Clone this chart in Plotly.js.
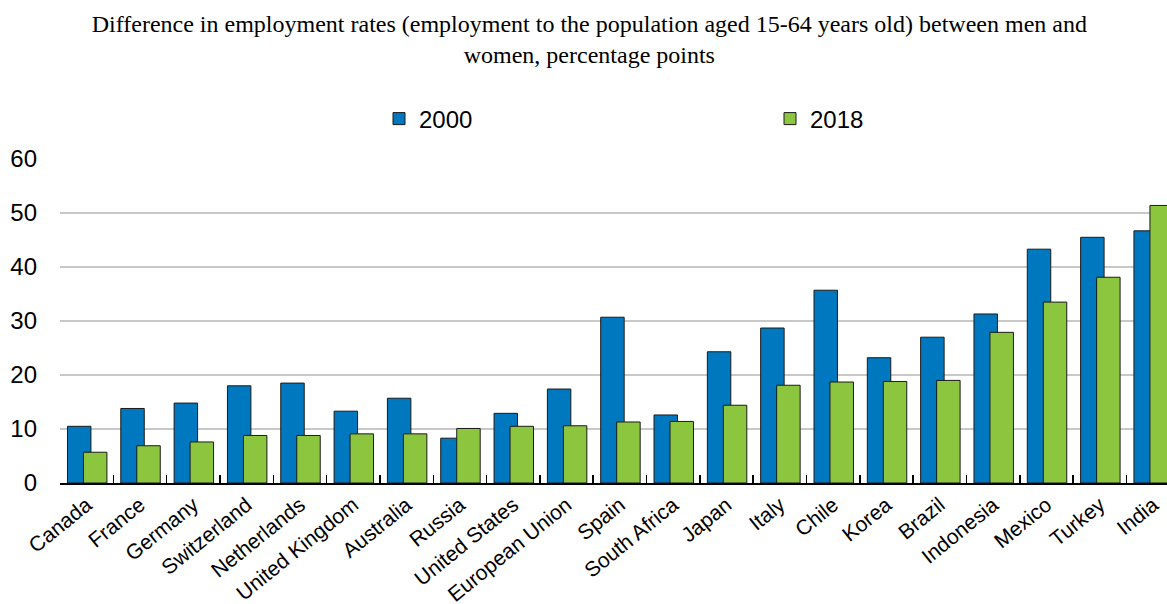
<!DOCTYPE html>
<html>
<head>
<meta charset="utf-8">
<script src="https://cdn.plot.ly/plotly-3.0.1.min.js"></script>
<style>body{margin:0;padding:0;background:#fff;}#chart{width:1167px;height:604px;}</style>
</head>
<body>
<div id="chart"></div>
<script>
const categories = ["Canada","France","Germany","Switzerland","Netherlands","United Kingdom","Australia","Russia","United States","European Union","Spain","South Africa","Japan","Italy","Chile","Korea","Brazil","Indonesia","Mexico","Turkey","India"];
const values2000 = [10.5,13.8,14.8,18.0,18.5,13.3,15.7,8.3,12.9,17.4,30.7,12.6,24.3,28.7,35.7,23.2,27.0,31.3,43.3,45.5,46.7];
const values2018 = [5.7,6.9,7.6,8.8,8.8,9.1,9.1,10.1,10.5,10.6,11.3,11.4,14.4,18.1,18.7,18.8,19.0,27.9,33.5,38.1,51.4];
const seriesNames = ["2000","2018"];
const titleText = "Difference in employment rates (employment to the population aged 15-64 years old) between men and<br>women, percentage points";

const narrow = "'Liberation Sans Narrow', 'Arial Narrow', 'Liberation Sans', Arial, sans-serif";
const traces = [
  {type:"bar", name:seriesNames[0], x:categories, y:values2000, width:0.44, offset:-0.36,
   marker:{color:"#0078BF", line:{color:"#1a1a1a", width:1}}},
  {type:"bar", name:seriesNames[1], x:categories, y:values2018, width:0.44, offset:-0.06,
   marker:{color:"#8CC63F", line:{color:"#1a1a1a", width:1}}}
];
const layout = {
  width:1167, height:604,
  margin:{l:60, r:0, t:159, b:121},
  paper_bgcolor:"#fff", plot_bgcolor:"#fff",
  barmode:"overlay",
  title:{text:titleText, x:0.505, xanchor:"center", xref:"container", y:1-32/604, yref:"container", yanchor:"middle",
         font:{family:"'Liberation Serif', 'Times New Roman', serif", size:24, color:"#000"}},
  showlegend:true,
  legend:{orientation:"h", xref:"container", yref:"container", x:379/1167, y:1-119/604, xanchor:"left", yanchor:"middle",
          entrywidth:346, font:{family:narrow, size:24, color:"#000"}, bgcolor:"rgba(0,0,0,0)", itemclick:false},
  xaxis:{type:"category", range:[-0.5, 20.26], showgrid:false, showline:true, linecolor:"#000", linewidth:1.5,
         ticks:"inside", tickson:"boundaries", ticklen:8, tickcolor:"#000", tickwidth:1.5,
         tickangle:-39, tickfont:{family:"'Liberation Sans', Arial, sans-serif", size:21, color:"#000"}, fixedrange:true},
  yaxis:{range:[0,60], tickvals:[0,10,20,30,40,50,60], showgrid:true, gridcolor:"#c8c8c8", gridwidth:1.5,
         zeroline:false, showline:false, ticks:"", ticklabelstandoff:22,
         tickfont:{family:narrow, size:24, color:"#000"}, fixedrange:true}
};
Plotly.newPlot("chart", traces, layout, {displayModeBar:false, staticPlot:true});
</script>
</body>
</html>
